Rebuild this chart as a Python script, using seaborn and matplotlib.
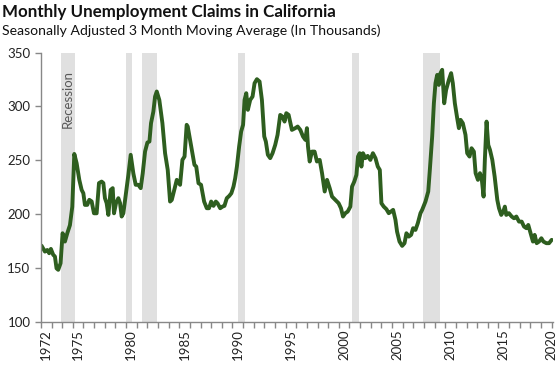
import numpy as np
import pandas as pd
import matplotlib
matplotlib.use("Agg")
import matplotlib.pyplot as plt
import seaborn as sns

# valores (ano decimal, milhares de pedidos)
years = [1972.06, 1972.38, 1972.6, 1972.78, 1972.94, 1973.16, 1973.32, 1973.47, 1973.63, 1973.85,
         1974.04, 1974.26, 1974.48, 1974.73, 1974.95, 1975.14, 1975.36, 1975.61, 1975.83, 1975.99,
         1976.14, 1976.36, 1976.55, 1976.77, 1976.99, 1977.24, 1977.46, 1977.71, 1977.87, 1978.02,
         1978.18, 1978.34, 1978.56, 1978.75, 1978.87, 1979.06, 1979.28, 1979.44, 1979.59, 1979.75,
         1980.0, 1980.22, 1980.44, 1980.69, 1980.91, 1981.16, 1981.38, 1981.57, 1981.79, 1982.01,
         1982.2, 1982.35, 1982.57, 1982.73, 1982.89, 1983.13, 1983.42, 1983.67, 1983.92, 1984.14,
         1984.3, 1984.53, 1984.77, 1985.08, 1985.3, 1985.5, 1985.7, 1985.8, 1986.18, 1986.43,
         1986.6, 1986.81, 1987.05, 1987.34, 1987.59, 1987.8, 1988.0, 1988.22, 1988.44, 1988.6,
         1988.85, 1989.07, 1989.25, 1989.47, 1989.7, 1989.9, 1990.1, 1990.26, 1990.42, 1990.63,
         1990.82, 1991.0, 1991.14, 1991.3, 1991.45, 1991.67, 1991.89, 1992.08, 1992.3, 1992.55,
         1992.77, 1992.99, 1993.14, 1993.33, 1993.55, 1993.77, 1994.02, 1994.24, 1994.49, 1994.7,
         1994.9, 1995.06, 1995.28, 1995.59, 1995.9, 1996.13, 1996.38, 1996.63, 1996.85, 1997.0,
         1997.1, 1997.26, 1997.47, 1997.72, 1997.94, 1998.2, 1998.42, 1998.67, 1998.89, 1999.14,
         1999.36, 1999.67, 1999.98, 2000.2, 2000.39, 2000.61, 2000.83, 2001.08, 2001.24, 2001.45,
         2001.65, 2001.8, 2001.96, 2002.12, 2002.27, 2002.49, 2002.71, 2002.96, 2003.2, 2003.44,
         2003.66, 2003.85, 2004.0, 2004.22, 2004.47, 2004.69, 2004.9, 2005.1, 2005.32, 2005.47,
         2005.7, 2005.95, 2006.17, 2006.35, 2006.57, 2006.79, 2006.98, 2007.2, 2007.42, 2007.67,
         2007.83, 2008.14, 2008.4, 2008.55, 2008.77, 2008.93, 2009.08, 2009.24, 2009.4, 2009.55,
         2009.71, 2009.9, 2010.08, 2010.34, 2010.55, 2010.71, 2010.9, 2011.12, 2011.28, 2011.44,
         2011.65, 2011.9, 2012.06, 2012.28, 2012.47, 2012.69, 2012.85, 2013.07, 2013.26, 2013.42,
         2013.6, 2013.72, 2013.88, 2014.04, 2014.2, 2014.42, 2014.64, 2014.89, 2015.05, 2015.26,
         2015.45, 2015.6, 2015.73, 2015.98, 2016.24, 2016.46, 2016.68, 2016.93, 2017.18, 2017.4,
         2017.62, 2017.8, 2018.02, 2018.24, 2018.4, 2018.59, 2018.81, 2019.03, 2019.22, 2019.5,
         2019.75, 2020.0]
claims = [171.0, 165.5, 167.0, 164.0, 168.0, 162.5, 161.0, 150.0, 148.6, 154.7,
          182.5, 174.8, 182.5, 190.0, 207.0, 256.0, 247.4, 232.0, 222.7, 219.6,
          208.8, 208.8, 213.5, 212.0, 201.0, 201.0, 229.0, 230.4, 229.0, 215.0,
          210.4, 199.5, 222.7, 224.3, 201.0, 210.4, 215.0, 210.4, 198.0, 201.0,
          219.6, 236.6, 255.2, 238.0, 227.4, 227.4, 224.3, 238.0, 258.3, 266.6,
          267.5, 284.5, 295.3, 309.2, 313.9, 306.0, 284.5, 256.7, 241.2, 211.9,
          213.4, 222.7, 232.0, 227.4, 250.5, 253.6, 283.0, 281.4, 259.8, 245.9,
          244.3, 228.9, 227.4, 211.9, 205.7, 205.7, 211.9, 207.9, 211.9, 210.3,
          205.7, 207.2, 207.9, 215.0, 217.1, 219.6, 225.8, 233.5, 244.3, 262.9,
          276.8, 283.0, 306.1, 312.3, 296.9, 306.1, 309.2, 321.6, 325.3, 323.1,
          306.1, 272.2, 267.5, 255.2, 252.1, 256.7, 264.4, 273.7, 292.2, 290.7,
          286.0, 293.8, 292.2, 278.3, 279.9, 281.4, 278.3, 272.2, 269.1, 279.9,
          262.9, 249.0, 258.2, 258.2, 249.0, 250.5, 238.2, 221.2, 232.0, 224.3,
          216.5, 213.4, 210.3, 205.7, 198.0, 201.1, 202.6, 207.2, 225.8, 230.4,
          236.6, 253.6, 256.7, 244.3, 256.7, 252.1, 254.2, 250.5, 256.7, 252.1,
          244.3, 241.2, 210.3, 207.2, 204.8, 201.1, 202.6, 204.2, 194.9, 184.0,
          174.8, 170.8, 173.3, 182.5, 179.4, 181.0, 187.2, 185.6, 191.8, 201.1,
          204.2, 211.9, 221.2, 241.2, 272.2, 303.0, 321.6, 329.3, 320.0, 330.9,
          334.0, 303.0, 315.4, 324.7, 330.9, 321.6, 303.0, 289.2, 279.9, 287.6,
          284.5, 273.7, 256.7, 253.6, 261.3, 258.2, 238.2, 232.0, 238.2, 233.5,
          216.5, 250.5, 286.0, 264.4, 259.8, 250.5, 235.1, 213.4, 205.7, 199.5,
          202.6, 207.2, 199.5, 201.1, 198.0, 196.4, 198.0, 193.3, 193.3, 188.7,
          187.2, 190.2, 182.5, 174.8, 181.0, 173.3, 174.8, 177.9, 174.8, 173.3,
          173.3, 176.4]

# períodos de recessão (início, fim)
rec_start = [1973.88, 1980.0, 1981.5, 1990.5, 2001.2, 2007.9]
rec_end = [1975.2, 1980.55, 1982.88, 1991.18, 2001.9, 2009.46]

tick_years = [1972, 1975, 1980, 1985, 1990, 1995, 2000, 2005, 2010, 2015, 2020]

df = pd.DataFrame({"ano": years, "pedidos": claims})

sns.set_style("white")
plt.rcParams['font.family'] = ['Lato', 'DejaVu Sans']

fig = plt.figure(figsize=(5.6, 3.7), dpi=100)
ax = fig.add_axes([0.073, 0.129, 0.915, 0.729])

for a, b in zip(rec_start, rec_end):
    ax.axvspan(a, b, color='#e0e0e0', lw=0, zorder=0)

sns.lineplot(data=df, x="ano", y="pedidos", color='#2e5e1f', linewidth=2.8, ax=ax)

ax.set_xlim(1972.0, 2020.15)
ax.set_ylim(100, 350)
ax.set_yticks([100, 150, 200, 250, 300, 350])

# marcas em cada ano, rótulos no meio do ano
ax.xaxis.remove_overlapping_locs = False
ax.set_xticks(np.arange(1972, 2021), minor=False)
ax.set_xticklabels([])
lab_pos = [y + 0.5 if y < 2020 else 2020.02 for y in tick_years]
ax.set_xticks(lab_pos, minor=True)
ax.set_xticklabels([str(y) for y in tick_years], minor=True, rotation=90)
ax.tick_params(axis='x', which='major', length=4, width=1, color='#888888', direction='out', bottom=True)
ax.tick_params(axis='x', which='minor', length=0, pad=5, labelsize=9.5, labelcolor='#222222')
ax.tick_params(axis='y', length=4, width=1, color='#888888', direction='out', left=True,
               labelsize=9.5, labelcolor='#222222')

ax.set_xlabel('')
ax.set_ylabel('')
sns.despine(ax=ax)
for s in ['left', 'bottom']:
    ax.spines[s].set_color('#888888')
    ax.spines[s].set_linewidth(1)

ax.text(1974.55, 334, 'Recession', rotation=90, ha='center', va='top', fontsize=9.5, color='#595959')

fig.text(0.004, 0.967, 'Monthly Unemployment Claims in California', fontsize=12.2,
         fontweight='bold', ha='left', va='center', color='#111111')
fig.text(0.004, 0.917, 'Seasonally Adjusted 3 Month Moving Average (In Thousands)', fontsize=10.1,
         ha='left', va='center', color='#111111')

fig.savefig('out.png', dpi=100)
